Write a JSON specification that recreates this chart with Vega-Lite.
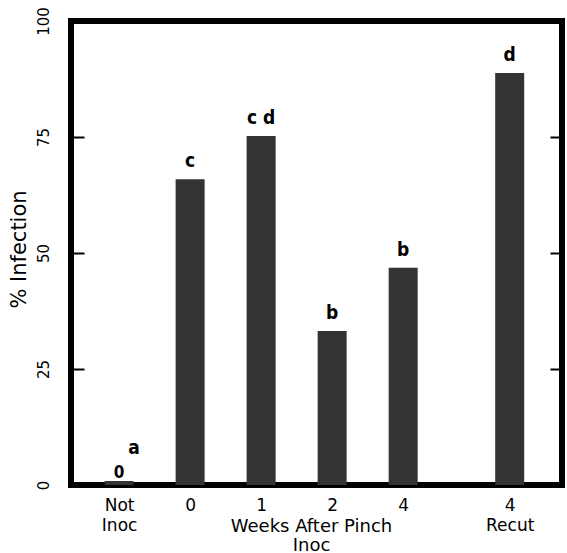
{
  "$schema": "https://vega.github.io/schema/vega-lite/v6.json",
  "width": 491,
  "height": 464,
  "autosize": {"type": "none"},
  "padding": {"left": 71, "top": 21, "right": 5, "bottom": 68},
  "background": "white",
  "config": {
    "view": {"stroke": "black", "strokeWidth": 6},
    "axis": {"grid": false, "domain": false, "labelColor": "black", "titleColor": "black", "tickColor": "black"}
  },
  "data": {
    "values": [
      {"group": "Not Inoc", "slot": 0, "infection": 0.86, "letter": "a", "note": "0"},
      {"group": "0", "slot": 1, "infection": 65.9, "letter": "c"},
      {"group": "1", "slot": 2, "infection": 75.2, "letter": "c d"},
      {"group": "2", "slot": 3, "infection": 33.2, "letter": "b"},
      {"group": "4", "slot": 4, "infection": 46.8, "letter": "b"},
      {"group": "Recut 4", "slot": 5.5, "infection": 88.8, "letter": "d"}
    ]
  },
  "encoding": {
    "x": {
      "field": "slot",
      "type": "quantitative",
      "scale": {"domain": [-0.607, 6.166], "nice": false, "zero": false},
      "axis": {
        "values": [0, 1, 2, 3, 4, 5.5],
        "labelExpr": "datum.value == 0 ? ['Not', 'Inoc'] : datum.value == 5.5 ? ['4', 'Recut'] : datum.value == 1 ? '0' : datum.value == 2 ? '1' : datum.value == 3 ? '2' : '4'",
        "ticks": false,
        "labelPadding": 12,
        "labelFont": "DejaVu Sans",
        "labelFontSize": 17,
        "labelLineHeight": 20,
        "labelBaseline": "top",
        "labelFlush": false,
        "labelOverlap": false,
        "title": ["Weeks After Pinch", "Inoc"],
        "titleFont": "DejaVu Sans",
        "titleFontSize": 18,
        "titleFontWeight": "normal",
        "titleLineHeight": 19,
        "titleX": 240,
        "titleY": 32,
        "titleAlign": "center",
        "titleBaseline": "top"
      }
    }
  },
  "layer": [
    {
      "mark": {"type": "bar", "size": 29, "fill": "#333333"},
      "encoding": {
        "y": {
          "field": "infection",
          "type": "quantitative",
          "scale": {"domain": [0, 100], "nice": false},
          "axis": {
            "values": [0, 25, 50, 75, 100],
            "tickSize": -13,
            "tickWidth": 2,
            "labelPadding": 41,
            "labelAngle": 270,
            "labelAlign": "center",
            "labelBaseline": "middle",
            "labelFont": "DejaVu Sans",
            "labelFontSize": 15,
            "labelFlush": false,
            "labelOverlap": false,
            "title": "% Infection",
            "titleFont": "DejaVu Sans",
            "titleFontSize": 21,
            "titleFontWeight": "normal",
            "titleAngle": 270,
            "titleX": -52,
            "titleY": 228,
            "titleAlign": "center",
            "titleBaseline": "middle"
          }
        }
      }
    },
    {
      "mark": {"type": "text", "font": "DejaVu Sans Condensed", "fontWeight": "bold", "fontSize": 19, "baseline": "alphabetic", "dy": -12},
      "transform": [{"filter": "datum.group != 'Not Inoc'"}],
      "encoding": {
        "y": {"field": "infection", "type": "quantitative", "axis": {"orient": "right", "values": [25, 50, 75], "tickSize": -12, "tickWidth": 2, "labels": false, "title": null}},
        "text": {"field": "letter"}
      }
    },
    {
      "mark": {"type": "text", "font": "DejaVu Sans Condensed", "fontWeight": "bold", "fontSize": 19, "baseline": "alphabetic", "dx": 15, "dy": -27},
      "transform": [{"filter": "datum.group == 'Not Inoc'"}],
      "encoding": {
        "y": {"field": "infection", "type": "quantitative", "axis": null},
        "text": {"field": "letter"}
      }
    },
    {
      "mark": {"type": "text", "font": "DejaVu Sans Condensed", "fontWeight": "bold", "fontSize": 17, "baseline": "alphabetic", "dy": -3},
      "transform": [{"filter": "datum.group == 'Not Inoc'"}],
      "encoding": {
        "y": {"field": "infection", "type": "quantitative", "axis": null},
        "text": {"field": "note"}
      }
    }
  ],
  "resolve": {"axis": {"y": "independent"}}
}
